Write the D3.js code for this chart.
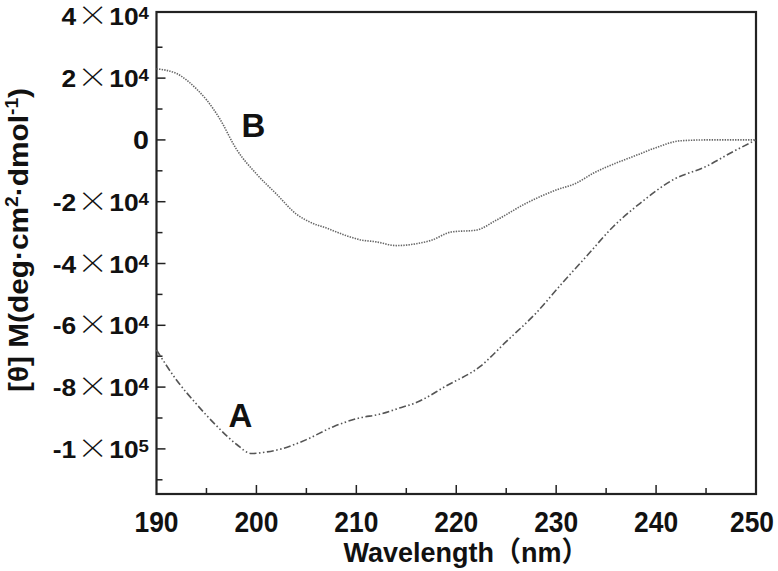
<!DOCTYPE html>
<html>
<head>
<meta charset="utf-8">
<script src="https://cdn.jsdelivr.net/npm/d3@7"></script>
<style>
  html, body { margin: 0; padding: 0; background: #fff; }
  svg text { font-family: "Liberation Sans", Arial, "Noto Sans CJK SC", sans-serif; font-weight: bold; fill: #111; }
  svg text tspan.times { font-family: "Noto Sans CJK SC", "DejaVu Sans", sans-serif; font-weight: 300; }
</style>
</head>
<body>
<svg id="chart" width="778" height="571"></svg>
<script>
// ---- data ----
const xTicks = [190, 200, 210, 220, 230, 240, 250];
const yTicks = [40000, 20000, 0, -20000, -40000, -60000, -80000, -100000];
const yTickLabels = [["4", "4"], ["2", "4"], null, ["-2", "4"], ["-4", "4"], ["-6", "4"], ["-8", "4"], ["-1", "5"]];

const wavelengthB = [190, 192, 194, 195, 196.3, 198, 200, 202, 204, 205.5, 207, 209, 210.5, 212, 214, 216, 217.5, 219.5, 222, 224, 227, 230, 232, 233.7, 236, 238, 240, 242.4, 245, 250];
const thetaB = [23000, 21500, 16500, 13000, 7000, -3000, -11000, -17500, -24000, -26800, -28500, -31000, -32400, -33000, -34200, -33600, -32500, -29800, -29200, -26000, -20500, -16200, -14000, -10800, -7500, -5000, -2500, -300, 0, 0];

const wavelengthA = [190, 192, 194, 196, 198, 199.5, 201, 202.5, 205, 207.7, 210.3, 212.3, 214.3, 216, 219, 222.4, 225, 228, 230.7, 233, 235.7, 238.4, 241.7, 245, 247.7, 250];
const thetaA = [-68000, -77700, -85500, -92500, -98500, -101500, -101000, -100000, -97000, -92800, -90000, -88800, -86800, -85000, -79600, -73300, -65300, -56000, -46000, -37800, -28100, -20500, -12900, -8600, -3800, 0];

const seriesLabels = [{name: "B", x: 199.7, y: 1000}, {name: "A", x: 198.4, y: -93000}];

// ---- layout ----
const svg = d3.select("#chart");
const mLeft = 156.5, mRight = 756, mTop = 12, mBottom = 494;
const x = d3.scaleLinear().domain([190, 250]).range([mLeft, mRight]);
const y = d3.scaleLinear().domain([-114600, 41400]).range([mBottom, mTop]);

// ticks (inward)
const minorX = d3.range(195, 250, 10);
const minorY = d3.range(-110000, 40000, 20000);
const g = svg.append("g");
g.selectAll(".xt").data(xTicks.slice(1, -1)).enter().append("line")
  .attr("x1", d => x(d)).attr("x2", d => x(d)).attr("y1", mBottom).attr("y2", mBottom - 9)
  .attr("stroke", "#222").attr("stroke-width", 1.5);
g.selectAll(".xm").data(minorX).enter().append("line")
  .attr("x1", d => x(d)).attr("x2", d => x(d)).attr("y1", mBottom).attr("y2", mBottom - 6)
  .attr("stroke", "#222").attr("stroke-width", 1.5);
g.selectAll(".yt").data(yTicks.slice(1)).enter().append("line")
  .attr("x1", mLeft).attr("x2", mLeft + 9).attr("y1", d => y(d)).attr("y2", d => y(d))
  .attr("stroke", "#222").attr("stroke-width", 1.5);
g.selectAll(".ym").data(minorY).enter().append("line")
  .attr("x1", mLeft).attr("x2", mLeft + 6).attr("y1", d => y(d)).attr("y2", d => y(d))
  .attr("stroke", "#222").attr("stroke-width", 1.5);

// frame
svg.append("rect").attr("x", mLeft).attr("y", mTop).attr("width", mRight - mLeft).attr("height", mBottom - mTop)
  .attr("fill", "none").attr("stroke", "#222").attr("stroke-width", 2.2);

// x tick labels
svg.selectAll(".xl").data(xTicks).enter().append("text")
  .attr("x", d => Math.min(x(d), 752)).attr("y", 532).attr("text-anchor", "middle")
  .attr("font-size", 30).attr("textLength", 44).attr("lengthAdjust", "spacingAndGlyphs")
  .text(d => d);

// y tick labels
yTicks.forEach((v, i) => {
  const t = svg.append("text").attr("transform", `translate(149,${y(v) + 9}) scale(1.1,1)`)
    .attr("text-anchor", "end").attr("font-size", 24);
  const lab = yTickLabels[i];
  if (!lab) { t.attr("font-size", 26).text("0"); return; }
  t.append("tspan").text(lab[0]);
  t.append("tspan").attr("class", "times").attr("font-size", 28).attr("dx", 1).attr("dy", 1).text("\u00D7");
  t.append("tspan").attr("dx", 1).attr("dy", -1).text("10");
  t.append("tspan").attr("font-size", 17).attr("dy", -6).text(lab[1]);
});

// axis titles
const yTitle = svg.append("text").attr("transform", "translate(28,240) rotate(-90)").attr("text-anchor", "middle")
  .attr("font-size", 28).attr("textLength", 304).attr("lengthAdjust", "spacingAndGlyphs");
yTitle.append("tspan").text("[\u03B8] M(deg\u00B7cm");
yTitle.append("tspan").attr("font-size", 18).attr("dy", -10).text("2");
yTitle.append("tspan").attr("dy", 10).text("\u00B7dmol");
yTitle.append("tspan").attr("font-size", 18).attr("dy", -10).text("-1");
yTitle.append("tspan").attr("dy", 10).text(")");

svg.append("text").attr("x", 466).attr("y", 562).attr("text-anchor", "middle")
  .attr("font-size", 28).attr("textLength", 245).attr("lengthAdjust", "spacingAndGlyphs")
  .text("Wavelength\uFF08nm\uFF09");

// curves
const line = d3.line().x(d => x(d[0])).y(d => y(d[1])).curve(d3.curveMonotoneX);
svg.append("path").datum(d3.zip(wavelengthB, thetaB)).attr("d", line)
  .attr("fill", "none").attr("stroke", "#666").attr("stroke-width", 1.6).attr("stroke-dasharray", "1.4,1.2");
svg.append("path").datum(d3.zip(wavelengthA, thetaA)).attr("d", line)
  .attr("fill", "none").attr("stroke", "#555").attr("stroke-width", 1.6).attr("stroke-dasharray", "7,2.5,1.5,2.5,1.5,2.5");

// series letters
svg.selectAll(".sl").data(seriesLabels).enter().append("text")
  .attr("x", d => x(d.x)).attr("y", d => y(d.y)).attr("text-anchor", "middle")
  .attr("font-size", 33).text(d => d.name);
</script>
</body>
</html>
